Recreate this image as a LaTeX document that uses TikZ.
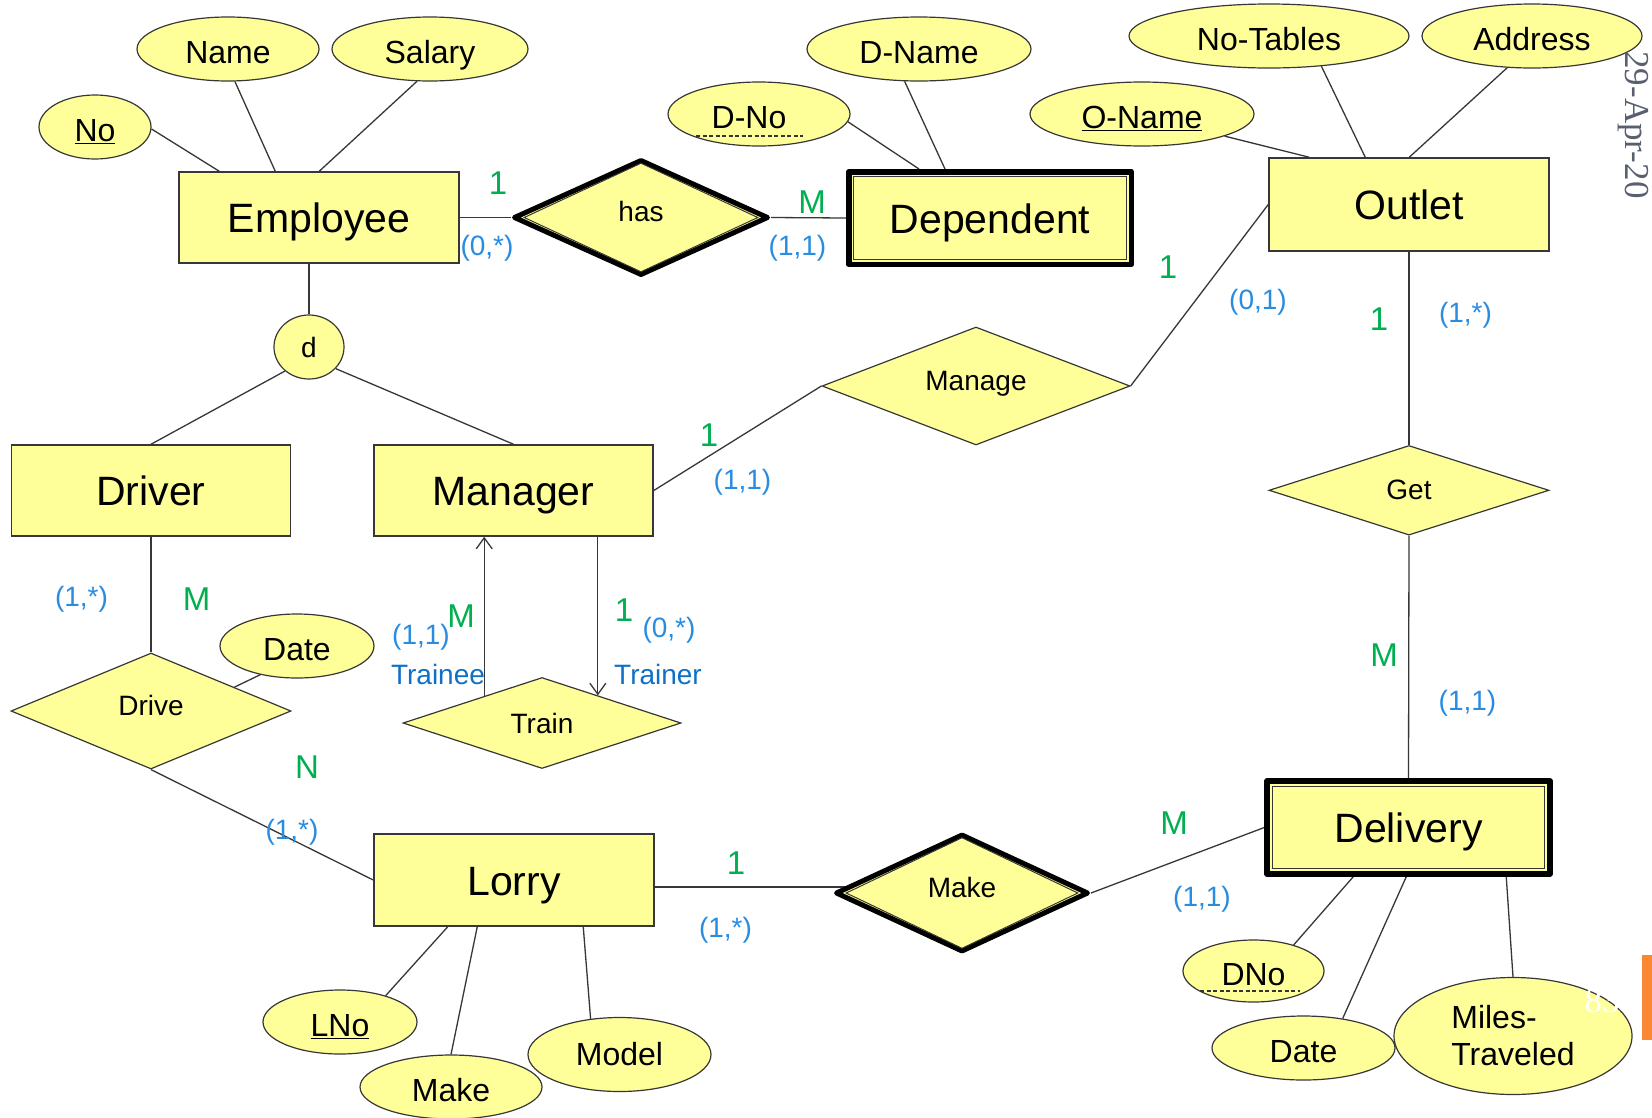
\documentclass[tikz,border=0pt]{standalone}
\usepackage{fontspec}
\setmainfont{Liberation Sans}
\newfontfamily\dateserif{Liberation Serif}
\usetikzlibrary{shapes.geometric,arrows.meta,calc,backgrounds}

\definecolor{erfill}{RGB}{255,255,153}
\definecolor{erline}{RGB}{55,55,55}
\definecolor{cardgreen}{RGB}{0,176,80}
\definecolor{partblue}{RGB}{40,140,225}
\definecolor{roleblue}{RGB}{15,112,200}
\definecolor{slidegray}{RGB}{88,96,112}
\definecolor{slideorange}{RGB}{250,135,50}

\newcommand\erEnt{\fontsize{41}{49}\selectfont}
\newcommand\erAtt{\fontsize{32}{37}\selectfont}
\newcommand\erRel{\fontsize{28}{33}\selectfont}
\newcommand\erCard{\fontsize{33}{38}\selectfont}
\newcommand\erPart{\fontsize{28}{32}\selectfont}
\newcommand\erSlide{\dateserif\fontsize{35}{40}\selectfont}

\begin{document}
\begin{tikzpicture}[x=1pt,y=-1pt,
  ent/.style={rectangle, draw=erline, line width=1.5pt, fill=erfill, inner sep=0pt,
    font=\erEnt, text height=30pt, text depth=0pt},
  weakent/.style={ent, draw=black, line width=5.5pt, line join=round},
  innerbox/.style={rectangle, draw=erline, line width=1pt, inner sep=0pt},
  attrbase/.style={ellipse, draw=erline, line width=1.2pt, fill=erfill, inner sep=0pt, font=\erAtt},
  attr/.style={attrbase, text height=28pt, text depth=0pt},
  rel/.style={diamond, shape aspect=2.5, draw=erline, line width=1.2pt, fill=erfill, inner sep=0pt, font=\erRel},
  raised/.style={text height=20pt, text depth=12pt},
  weakrel/.style={rel, draw=black, line width=5pt, line join=round},
  innerdia/.style={diamond, shape aspect=2.5, draw=erline, line width=1pt, inner sep=0pt},
  link/.style={draw=erline, line width=1.3pt},
  barb/.style={-{Straight Barb[length=11pt,width=16pt,line width=1.3pt]}},
  keyline/.style={draw=black!80, line width=1.2pt, dash pattern=on 4pt off 2.5pt},
  card/.style={text=cardgreen, font=\erCard, inner sep=0pt},
  part/.style={text=partblue, font=\erPart, inner sep=0pt},
  role/.style={text=roleblue, font=\erPart, inner sep=0pt}
]
\useasboundingbox (0,0) rectangle (1652,1117);

% ---------- entities ----------
\node[ent, minimum width=280pt, minimum height=91pt] (emp) at (319,217.5) {Employee};
\node[weakent, minimum width=282.5pt, minimum height=92.5pt] (dep) at (990,218) {Dependent};
\node[innerbox, minimum width=272.5pt, minimum height=82.5pt] (depin) at (dep.center) {};
\node[ent, minimum width=280pt, minimum height=93pt] (outlet) at (1409,204.5) {Outlet};
\node[ent, minimum width=279pt, minimum height=91pt] (driver) at (151,490.5) {Driver};
\node[ent, minimum width=279pt, minimum height=91pt] (manager) at (513.5,490.5) {Manager};
\node[ent, minimum width=280pt, minimum height=92pt] (lorry) at (514,880) {Lorry};
\node[weakent, minimum width=283pt, minimum height=93pt] (delivery) at (1408.5,827.5) {Delivery};
\node[innerbox, minimum width=272pt, minimum height=82pt] (delin) at (delivery.center) {};

% ---------- relationships ----------
\node[weakrel, raised, minimum width=255pt, minimum height=116pt] (has) at (641,217.5) {has};
\node[innerdia, minimum width=234pt, minimum height=109pt] (hasin) at (has.center) {};
\node[rel, raised, minimum width=308pt, minimum height=118pt] (manage) at (976,386) {Manage};
\node[rel, minimum width=280pt, minimum height=89.6pt] (get) at (1409,490.3) {Get};
\node[rel, raised, minimum width=280pt, minimum height=116pt] (drive) at (151,711) {Drive};
\node[rel, minimum width=278pt, minimum height=91pt] (train) at (542,723) {Train};
\node[weakrel, raised, minimum width=253pt, minimum height=118pt] (make) at (962,893) {Make};
\node[innerdia, minimum width=232pt, minimum height=111pt] (makein) at (make.center) {};

% ---------- attributes ----------
\node[attr, minimum width=112pt, minimum height=64pt] (no) at (95,127) {\underline{No}};
\node[attr, minimum width=182pt, minimum height=64pt] (name) at (228,49) {Name};
\node[attr, minimum width=196pt, minimum height=64pt] (salary) at (430,49) {Salary};
\node[attr, minimum width=182pt, minimum height=64pt] (dno) at (759,114) {\hspace*{-20pt}D-No};
\node[attr, minimum width=224pt, minimum height=64pt] (dname) at (919,49) {D-Name};
\node[attr, minimum width=224pt, minimum height=64pt] (oname) at (1142,114) {\underline{O-Name}};
\node[attr, minimum width=280pt, minimum height=64pt] (notables) at (1269,36) {No-Tables};
\node[attr, minimum width=220pt, minimum height=64pt] (address) at (1532,36) {Address};
\node[attrbase, minimum width=70pt, minimum height=64pt, font=\erRel] (d) at (309,347) {d};
\node[attr, minimum width=154pt, minimum height=64pt] (ddate) at (297,646) {Date};
\node[attr, minimum width=154pt, minimum height=64pt] (lno) at (340,1022) {\underline{LNo}};
\node[attr, minimum width=182pt, minimum height=64pt] (lmake) at (451,1087) {Make};
\node[attrbase, minimum width=183pt, minimum height=74pt] (model) at (619.5,1054.5) {Model};
\node[attr, minimum width=141pt, minimum height=62pt] (dlno) at (1253.5,971) {DNo};
\node[attr, minimum width=183pt, minimum height=64pt] (dldate) at (1303.5,1048) {Date};
\node[attrbase, minimum width=238pt, minimum height=117pt, align=left] (miles) at (1513,1036) {Miles-\\Traveled};

% partial keys of the weak entities
\draw[keyline] ([shift={(-63,22)}]dno.center) -- ([shift={(44,22)}]dno.center);
\draw[keyline] ([shift={(-53.5,20)}]dlno.center) -- ([shift={(46.5,20)}]dlno.center);

% ---------- connectors ----------
\begin{scope}[on background layer]
\fill[white] (0,0) rectangle (1652,1117);
\draw[link] (no.-2) -- ([xshift=41pt]emp.north west);
\draw[link] (name.-78) -- ([xshift=97pt]emp.north west);
\draw[link] (salary.-112) -- ([xshift=141pt]emp.north west);
\draw[link] (emp.east) -- (has.west);
\draw[link] (has.east) -- (dep.west);
\draw[link] (dno.-5) -- ([xshift=73pt]dep.north west);
\draw[link] (dname.-114) -- ([xshift=99pt]dep.north west);
\draw[link] (oname.-15) -- ([xshift=41pt]outlet.north west);
\draw[link] (notables.-30) -- ([xshift=97pt]outlet.north west);
\draw[link] (address.-128) -- ([xshift=141pt]outlet.north west);
\draw[link] (outlet.south) -- (get.north);
\draw[link] (get.south) -- (delivery.north);
\draw[link] (manager.east) -- (manage.west);
\draw[link] (manage.east) -- (outlet.west);
\draw[link] (d.north |- emp.south) -- (d.north);
\draw[link] (d.-135) -- (driver.north);
\draw[link] (d.-39) -- (manager.north);
\draw[link] (driver.south) -- (drive.north);
\draw[link] ($(drive.north)!0.593!(drive.east)$) -- (ddate.-142);
\draw[link] (drive.south) -- (lorry.west);
\coordinate (makeTip) at ($(make.west)!0.1!(make.north)$);
\draw[link] (lorry.east |- makeTip) -- (makeTip);
\draw[link] (make.east) -- (delivery.west);
\draw[link] ([xshift=74.5pt]lorry.south west) -- (lno.30);
\draw[link] ([xshift=104pt]lorry.south west) -- (lmake.north);
\draw[link] ([xshift=210pt]lorry.south west) -- (model.129);
\draw[link] ([xshift=89pt]delivery.south west) -- (dlno.33);
\draw[link] ([xshift=142pt]delivery.south west) -- (dldate.37);
\draw[link] ([xshift=242pt]delivery.south west) -- (miles.north);
\end{scope}

% recursive Train relationship with role arrows
\coordinate (traineeEnd) at ($(train.west)!0.586!(train.north)$);
\coordinate (trainerEnd) at ($(train.north)!0.4!(train.east)$);
\draw[link, barb] (traineeEnd) -- (traineeEnd |- manager.south);
\draw[link, barb] (trainerEnd |- manager.south) -- (trainerEnd);

% ---------- cardinalities ----------
\node[card] (c1) at (498,183) {1};
\node[card] (c2) at (812,202) {M};
\node[card] (c3) at (1168,267) {1};
\node[card] (c4) at (709,435) {1};
\node[card] (c5) at (1379,319) {1};
\node[card] (c6) at (1384,655.5) {M};
\node[card] (c7) at (196.5,599) {M};
\node[card] (c8) at (307,767) {N};
\node[card] (c9) at (461,616) {M};
\node[card] (c10) at (624,610) {1};
\node[card] (c11) at (736,863) {1};
\node[card] (c12) at (1174,823) {M};

% ---------- participation constraints ----------
\node[part] (p1) at (487,248) {(0,*)};
\node[part] (p2) at (797.5,248) {(1,1)};
\node[part] (p3) at (1258,302) {(0,1)};
\node[part] (p4) at (742.5,482) {(1,1)};
\node[part] (p5) at (1465.5,315) {(1,*)};
\node[part] (p6) at (1467.5,703) {(1,1)};
\node[part] (p7) at (81.5,599) {(1,*)};
\node[part] (p8) at (292,832.5) {(1,*)};
\node[part] (p9) at (421,637) {(1,1)};
\node[role] (p10) at (438,674.5) {Trainee};
\node[part] (p11) at (669,630.5) {(0,*)};
\node[role] (p12) at (658,674.5) {Trainer};
\node[part] (p13) at (725.5,930) {(1,*)};
\node[part] (p14) at (1202,899.5) {(1,1)};

% ---------- slide furniture ----------
\node[text=slidegray, font=\erSlide, rotate=-90] (slidedate) at (1633,125) {29-Apr-20};
\fill[slideorange] (1642,955) -- (1652,955) -- (1652,1040) -- (1642,1040) -- cycle;
\node[text=white, font=\erSlide] (pagenum) at (1602,1001.5) {83};
\end{tikzpicture}
\end{document}
